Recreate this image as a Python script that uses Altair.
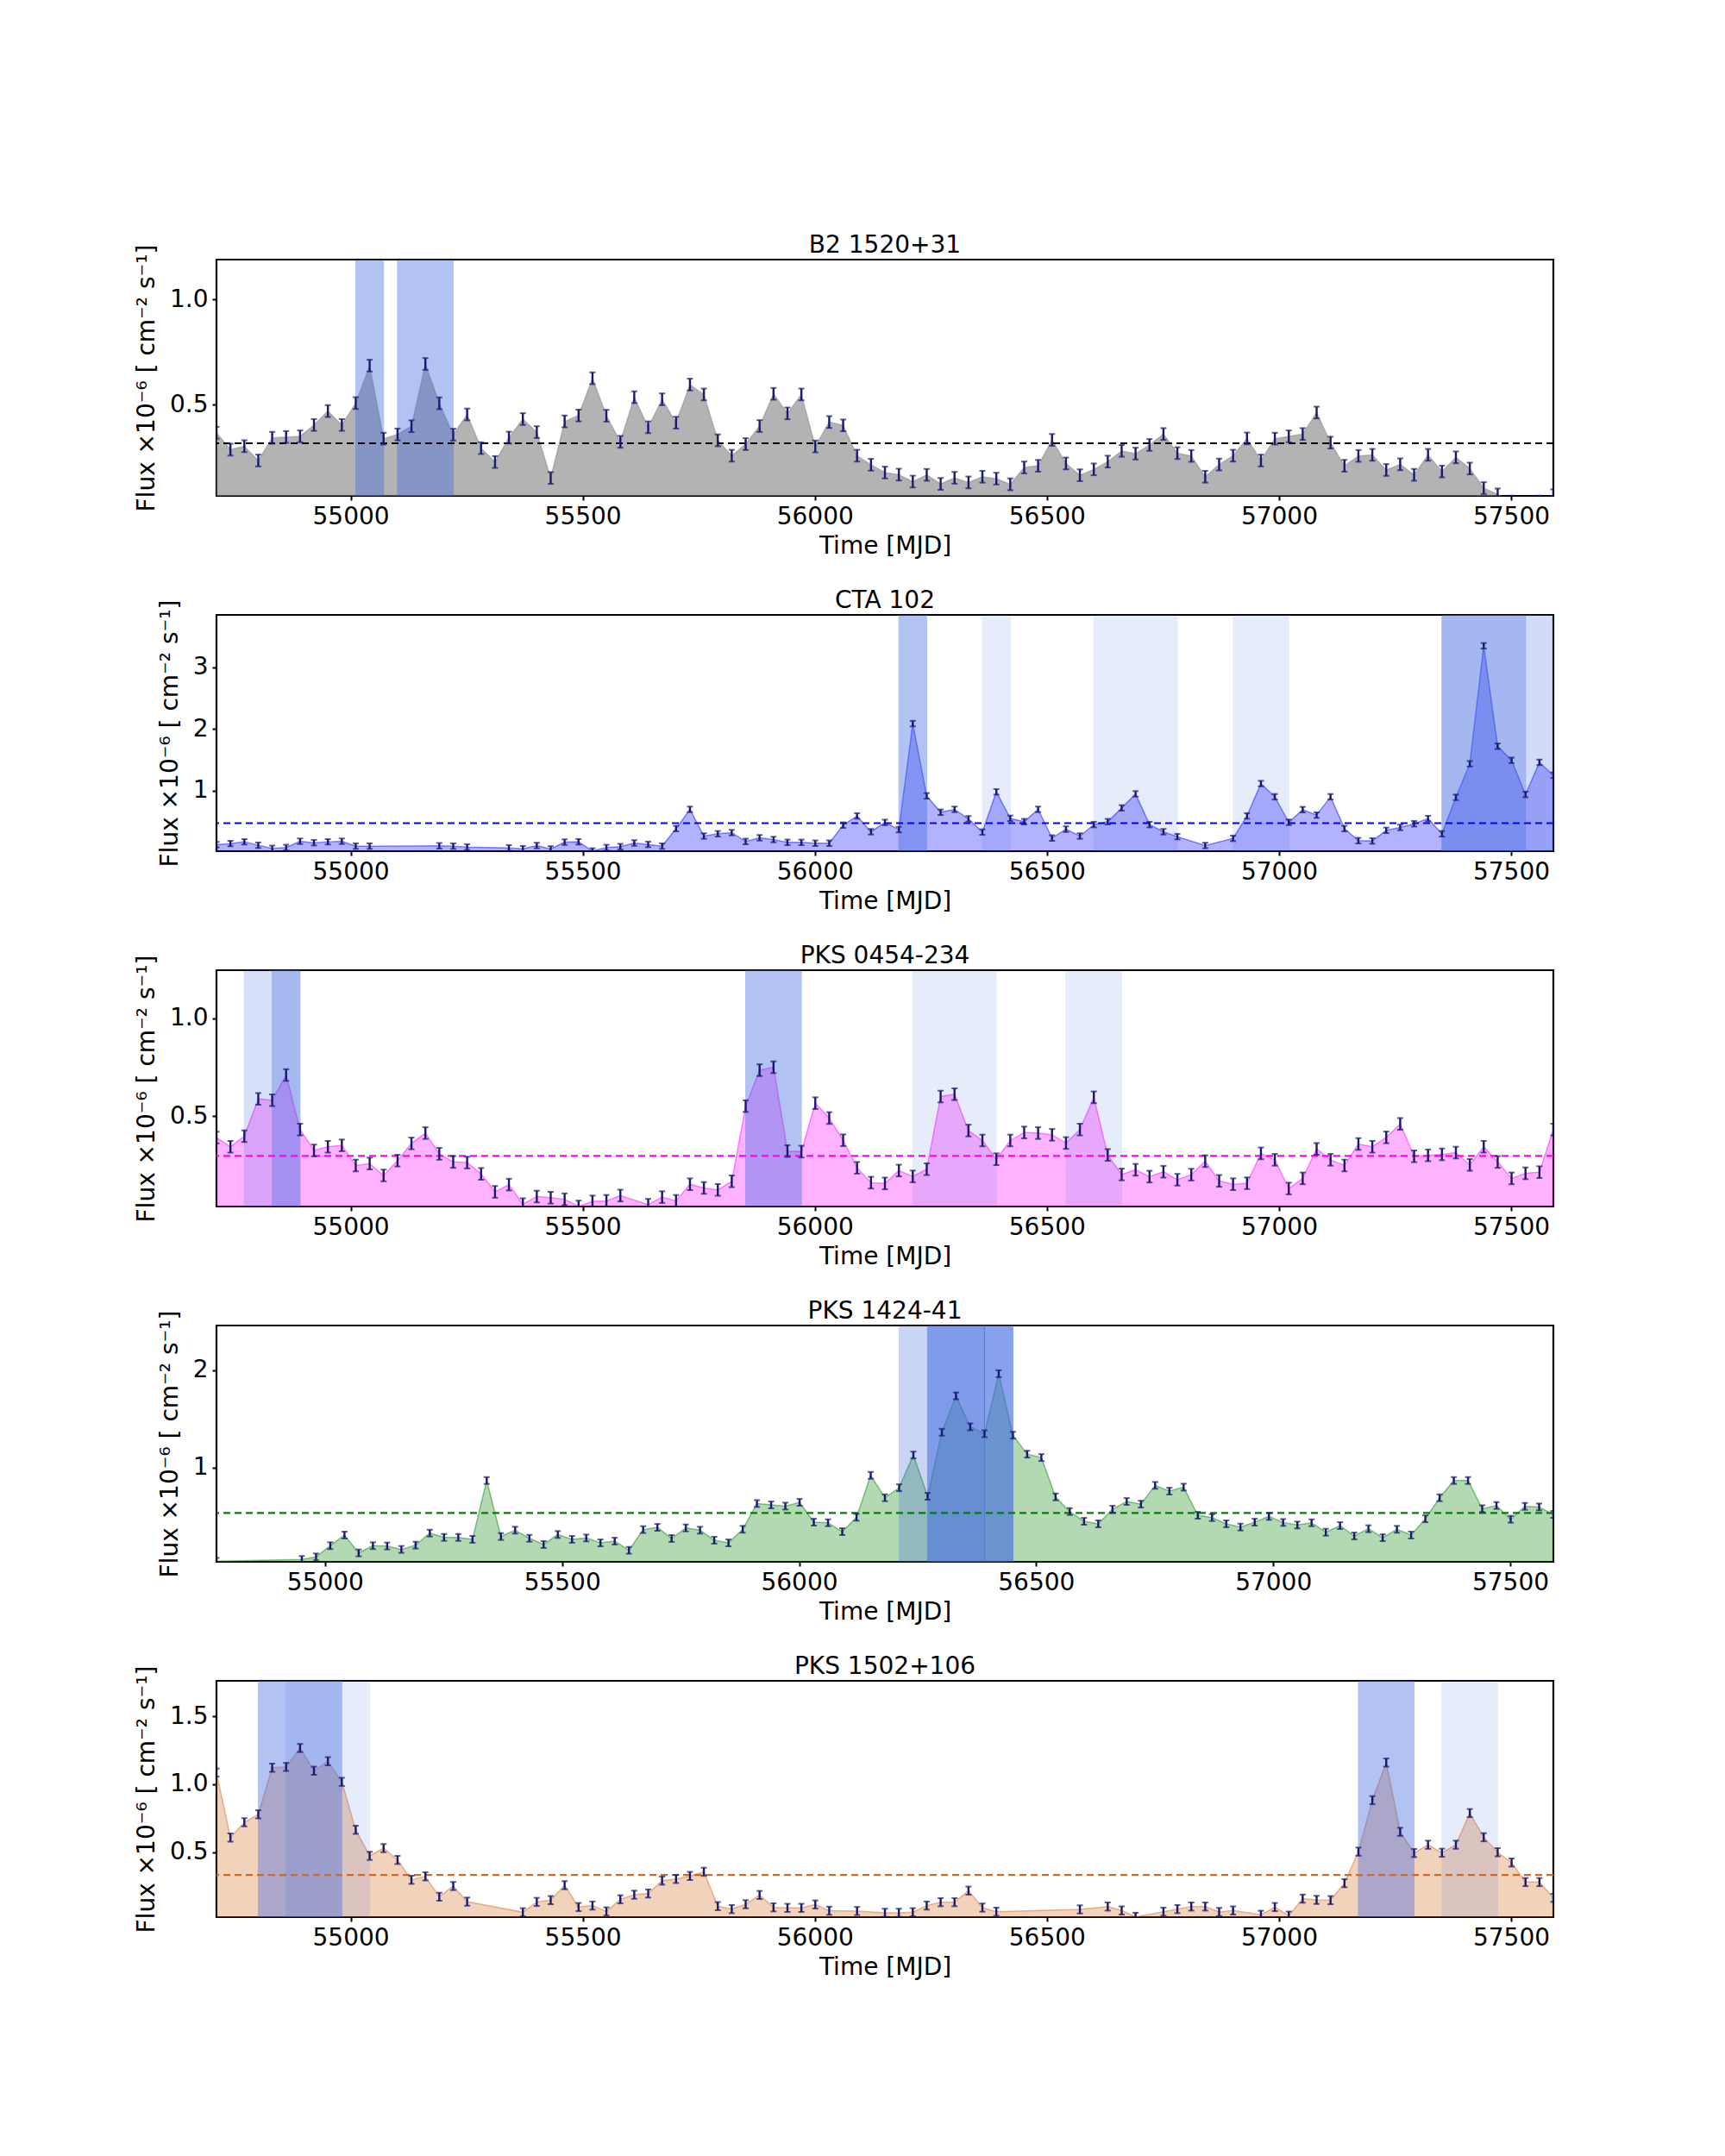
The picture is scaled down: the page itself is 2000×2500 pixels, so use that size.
import altair as alt
import pandas as pd

# ---------------- data ----------------
TIME_MJD = [54711, 54741, 54771, 54801, 54831, 54861, 54891, 54921, 54951, 54981,
            55011, 55041, 55071, 55101, 55131, 55161, 55191, 55221, 55251, 55281,
            55311, 55341, 55371, 55401, 55431, 55461, 55491, 55521, 55551, 55581,
            55611, 55641, 55671, 55701, 55731, 55761, 55791, 55821, 55851, 55881,
            55911, 55941, 55971, 56001, 56031, 56061, 56091, 56121, 56151, 56181,
            56211, 56241, 56271, 56301, 56331, 56361, 56391, 56421, 56451, 56481,
            56511, 56541, 56571, 56601, 56631, 56661, 56691, 56721, 56751, 56781,
            56811, 56841, 56871, 56901, 56931, 56961, 56991, 57021, 57051, 57081,
            57111, 57141, 57171, 57201, 57231, 57261, 57291, 57321, 57351, 57381,
            57411, 57441, 57471, 57501, 57531, 57561, 57591]

N = None

FLUX_B2_1520 = [0.367, 0.287, 0.303, 0.235, 0.343, 0.347, 0.350, 0.404, 0.470, 0.404,
                0.508, 0.686, 0.339, 0.359, 0.398, 0.694, 0.507, 0.358, 0.454, 0.294,
                0.228, 0.344, 0.432, 0.370, 0.152, 0.421, 0.449, 0.626, 0.448, 0.324,
                0.536, 0.393, 0.526, 0.415, 0.596, 0.549, 0.331, 0.258, 0.313, 0.399,
                0.552, 0.459, 0.549, 0.302, 0.418, 0.402, 0.258, 0.215, 0.178, 0.168,
                0.135, 0.167, 0.124, 0.153, 0.131, 0.158, 0.149, 0.122, 0.202, 0.210,
                0.333, 0.221, 0.165, 0.193, 0.230, 0.281, 0.268, 0.309, 0.361, 0.270,
                0.257, 0.158, 0.216, 0.258, 0.340, 0.235, 0.339, 0.350, 0.361, 0.463,
                0.320, 0.210, 0.257, 0.262, 0.190, 0.217, 0.167, 0.262, 0.183, 0.250,
                0.197, 0.104, 0.074, 0.040, 0.030, 0.040, 0.070]

FLUX_CTA_102 = [0.126, 0.144, 0.172, 0.116, 0.065, 0.079, 0.181, 0.158, 0.172, 0.181,
                0.102, 0.102, N, N, N, N, 0.107, 0.102, 0.088, N,
                N, 0.074, 0.060, 0.112, 0.056, 0.167, 0.172, 0.023, 0.079, 0.093,
                0.153, 0.130, 0.102, 0.386, 0.698, 0.265, 0.302, 0.321, 0.177, 0.237,
                0.209, 0.163, 0.163, 0.149, 0.149, 0.442, 0.591, 0.335, 0.486, 0.370,
                2.088, 0.916, 0.651, 0.698, 0.544, 0.330, 0.981, 0.553, 0.498, 0.698,
                0.233, 0.377, 0.265, 0.451, 0.498, 0.721, 0.949, 0.451, 0.335, 0.256,
                N, 0.112, N, 0.228, 0.591, 1.116, 0.902, 0.488, 0.693, 0.605,
                0.902, 0.386, 0.191, 0.186, 0.358, 0.405, 0.465, 0.549, 0.302, 0.893,
                1.437, 3.349, 1.721, 1.493, 0.940, 1.460, 1.251]

FLUX_PKS_0454 = [0.390, 0.343, 0.397, 0.588, 0.581, 0.710, 0.431, 0.324, 0.343, 0.350,
                 0.247, 0.257, 0.196, 0.272, 0.360, 0.413, 0.307, 0.265, 0.262, 0.204,
                 0.112, 0.149, 0.049, 0.088, 0.082, 0.074, 0.037, 0.063, 0.066, 0.093,
                 N, 0.046, 0.085, 0.066, 0.151, 0.132, 0.122, 0.166, 0.551, 0.735,
                 0.750, 0.321, 0.318, 0.566, 0.490, 0.376, 0.235, 0.159, 0.155, 0.221,
                 0.191, 0.228, 0.600, 0.612, 0.426, 0.375, 0.279, 0.375, 0.416, 0.413,
                 0.404, 0.362, 0.431, 0.596, 0.301, 0.201, 0.225, 0.190, 0.215, 0.174,
                 0.200, 0.269, 0.168, 0.151, 0.156, 0.309, 0.276, 0.129, 0.181, 0.332,
                 0.276, 0.247, 0.357, 0.343, 0.391, 0.460, 0.294, 0.299, 0.304, 0.313,
                 0.250, 0.343, 0.265, 0.181, 0.207, 0.213, 0.431]

FLUX_PKS_1424 = [N, N, 0.040, N, N, N, N, N, 0.059, 0.085,
                 0.200, 0.309, 0.126, 0.200, 0.197, 0.162, 0.206, 0.329, 0.285, 0.285,
                 0.265, 0.868, 0.294, 0.359, 0.276, 0.212, 0.315, 0.265, 0.279, 0.229,
                 0.247, 0.153, 0.365, 0.388, 0.274, 0.382, 0.359, 0.256, 0.229, 0.368,
                 0.632, 0.618, 0.606, 0.644, 0.441, 0.435, 0.344, 0.491, 0.921, 0.691,
                 0.794, 1.129, 0.706, 1.362, 1.735, 1.418, 1.347, 1.962, 1.332, 1.138,
                 1.103, 0.700, 0.550, 0.450, 0.424, 0.574, 0.653, 0.626, 0.818, 0.759,
                 0.800, 0.512, 0.488, 0.424, 0.391, 0.441, 0.500, 0.438, 0.412, 0.435,
                 0.338, 0.406, 0.300, 0.374, 0.282, 0.368, 0.309, 0.476, 0.691, 0.868,
                 0.868, 0.579, 0.612, 0.471, 0.603, 0.597, 0.521]

FLUX_PKS_1502 = [1.086, 0.608, 0.720, 0.779, 1.122, 1.128, 1.267, 1.100, 1.170, 1.018,
                 0.665, 0.473, 0.530, 0.443, 0.297, 0.322, 0.172, 0.251, 0.136, N,
                 N, N, 0.058, 0.134, 0.147, 0.257, 0.096, 0.107, 0.064, 0.153,
                 0.187, 0.196, 0.291, 0.303, 0.325, 0.356, 0.103, 0.081, 0.117, 0.185,
                 0.094, 0.090, 0.090, 0.115, 0.069, N, 0.067, N, 0.054, 0.054,
                 0.058, 0.107, 0.132, 0.132, 0.217, 0.092, 0.062, N, N, N,
                 N, N, 0.079, N, 0.100, 0.071, 0.024, N, 0.062, 0.081,
                 0.100, 0.100, 0.060, 0.071, N, 0.039, 0.096, 0.033, 0.158, 0.149,
                 0.147, 0.272, 0.504, 0.883, 1.160, 0.650, 0.494, 0.555, 0.496, 0.555,
                 0.788, 0.610, 0.500, 0.424, 0.280, 0.280, 0.164]

FLUXES = [FLUX_B2_1520, FLUX_CTA_102, FLUX_PKS_0454, FLUX_PKS_1424, FLUX_PKS_1502]
TITLES = ["B2 1520+31", "CTA 102", "PKS 0454-234", "PKS 1424-41", "PKS 1502+106"]
MEAN_FLUX = [0.317, 0.474, 0.296, 0.535, 0.333]
FLUX_ERR = [0.028, 0.045, 0.030, 0.035, 0.030]
Y_DOMAINS = [[0.067, 1.19], [0.02, 3.85], [0.037, 1.247], [0.035, 2.456], [0.022, 1.762]]
Y_TICKS = [[0.5, 1.0], [1, 2, 3], [0.5, 1.0], [1, 2], [0.5, 1.0, 1.5]]
Y_FORMATS = [".1f", "d", ".1f", "d", ".1f"]
X_DOMAINS = [[54711, 57591], [54711, 57591], [54711, 57591], [54771, 57591], [54711, 57591]]
X_TICKS = [55000, 55500, 56000, 56500, 57000, 57500]

# flare periods: (start MJD, end MJD, opacity)
BANDS = [
    [(55011, 55071, 0.40), (55101, 55221, 0.40)],
    [(56181, 56241, 0.40), (56361, 56421, 0.12), (56601, 56781, 0.12), (56901, 57021, 0.12),
     (57351, 57591, 0.12), (57351, 57531, 0.40), (57531, 57591, 0.12)],
    [(54771, 54891, 0.20), (54831, 54891, 0.33), (55851, 55971, 0.40),
     (56211, 56391, 0.12), (56541, 56661, 0.12)],
    [(56211, 56391, 0.28), (56271, 56391, 0.53), (56391, 56451, 0.62)],
    [(54801, 54981, 0.40), (54861, 55041, 0.12), (57171, 57291, 0.40), (57351, 57471, 0.12)],
]

AREA_COLORS = ["#808080", "#0000ff", "#ff00ff", "#008000", "#d2691e"]
AREA_OPACITY = [0.6, 0.3, 0.3, 0.3, 0.3]
MEAN_COLORS = ["#000000", "#0000ff", "#ff00ff", "#008000", "#d2691e"]
ERR_COLOR = "#191970"
BAND_COLOR = "#4169e1"

Y_TITLE = "Flux \u00d710\u207b\u2076 [ cm\u207b\u00b2 s\u207b\u00b9]"
X_TITLE = "Time [MJD]"

W, H = 1550, 274


def panel(k):
    xs = alt.Scale(domain=X_DOMAINS[k], nice=False, zero=False)
    ys = alt.Scale(domain=Y_DOMAINS[k], nice=False, zero=False)
    xax = alt.Axis(values=X_TICKS, format="d", title=X_TITLE, labelFlush=False)
    yax = alt.Axis(values=Y_TICKS[k], format=Y_FORMATS[k], title=Y_TITLE)

    def X(f):
        return alt.X(f, type="quantitative", scale=xs, axis=xax)

    def Y(f):
        return alt.Y(f, type="quantitative", scale=ys, axis=yax)

    df = pd.DataFrame({"t": TIME_MJD, "f": FLUXES[k]}).dropna()
    df["lo"] = df["f"] - FLUX_ERR[k]
    df["hi"] = df["f"] + FLUX_ERR[k]
    bands = pd.DataFrame(BANDS[k], columns=["t", "t2", "op"])
    mean = pd.DataFrame({"m": [MEAN_FLUX[k]]})

    base = alt.Chart(df)
    area = base.mark_area(color=AREA_COLORS[k], opacity=AREA_OPACITY[k], clip=True).encode(
        x=X("t"), y=Y("f"))
    edge = base.mark_line(color=AREA_COLORS[k], opacity=0.45, strokeWidth=1.5, clip=True).encode(
        x=X("t"), y=Y("f"))
    band = alt.Chart(bands).mark_rect(color=BAND_COLOR, stroke=BAND_COLOR, strokeWidth=1,
                                      clip=True).encode(
        x=X("t"), x2="t2", y=alt.value(0), y2=alt.value(H),
        opacity=alt.Opacity("op:Q", scale=None, legend=None))
    mline = alt.Chart(mean).mark_rule(color=MEAN_COLORS[k], strokeDash=[8, 5],
                                      strokeWidth=2.2).encode(y=Y("m"))
    err = base.mark_rule(color=ERR_COLOR, strokeWidth=2.4, clip=True).encode(
        x=X("t"), y=Y("lo"), y2="hi")
    cap_lo = base.mark_tick(color=ERR_COLOR, orient="horizontal", size=7, thickness=2,
                            clip=True).encode(x=X("t"), y=Y("lo"))
    cap_hi = base.mark_tick(color=ERR_COLOR, orient="horizontal", size=7, thickness=2,
                            clip=True).encode(x=X("t"), y=Y("hi"))
    return alt.layer(area, edge, band, mline, err, cap_lo, cap_hi).properties(
        width=W, height=H, title=alt.TitleParams(TITLES[k], frame="group"))


chart = alt.vconcat(*[panel(k) for k in range(5)], spacing=32).properties(
    padding={"left": 147, "top": 261, "right": 20, "bottom": 20})

chart = (chart.configure(font="DejaVu Sans")
         .configure_view(stroke="black", strokeWidth=2.2)
         .configure_axis(domain=False, grid=False, tickColor="black", tickSize=5, tickWidth=2,
                         labelFontSize=28, titleFontSize=28, labelColor="black", titleColor="black",
                         titleFontWeight="normal", labelFont="DejaVu Sans", titleFont="DejaVu Sans",
                         labelPadding=5, labelOverlap=False)
         .configure_axisY(titlePadding=12)
         .configure_axisX(titlePadding=6)
         .configure_title(fontSize=28, font="DejaVu Sans", fontWeight="normal", offset=-16,
                          color="black"))

chart.save("out.html", embed_options={"renderer": "svg", "actions": False})
